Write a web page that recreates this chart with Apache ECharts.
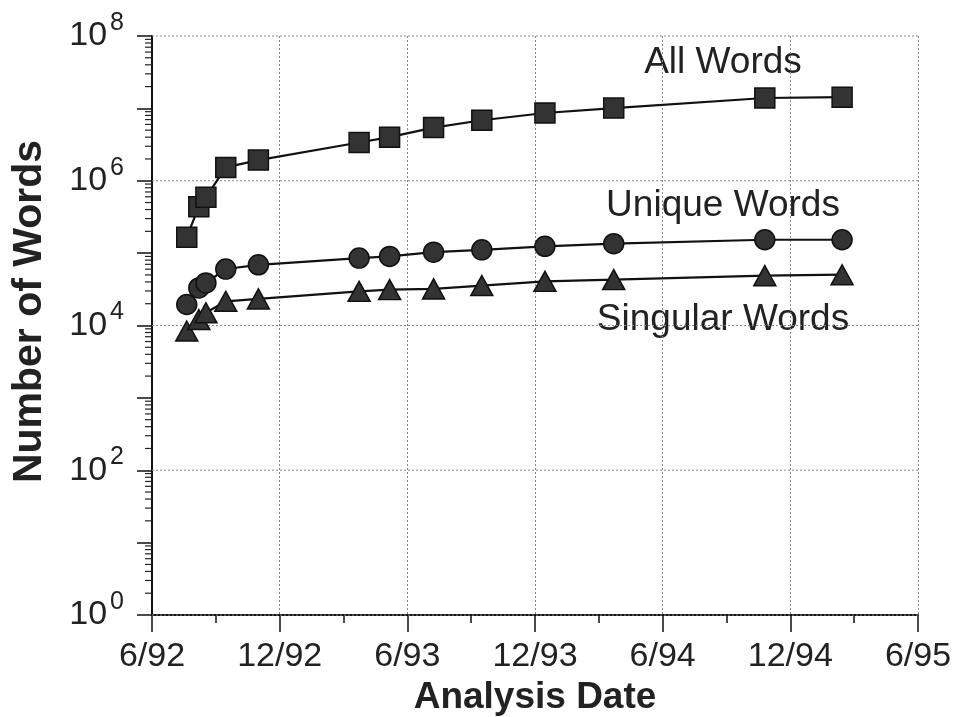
<!DOCTYPE html>
<html>
<head>
<meta charset="utf-8">
<script src="https://cdn.jsdelivr.net/npm/echarts@6/dist/echarts.min.js"></script>
<style>
html,body{margin:0;padding:0;background:#fff;}
#chart{width:956px;height:717px;}
</style>
</head>
<body>
<div id="chart"></div>
<script>
// ---- data ----
const analysisDates = ['1992-07-20','1992-08-07','1992-08-17','1992-09-15','1992-11-01',
  '1993-03-23','1993-05-06','1993-07-08','1993-09-16','1993-12-15','1994-03-22','1994-10-25','1995-02-14'];
const allWords = [166000, 439000, 590000, 1530000, 1930000, 3380000, 4000000, 5430000, 6850000, 8630000, 10100000, 13900000, 14300000];
const uniqueWords = [19500, 33000, 38700, 60300, 69000, 85500, 90000, 103000, 111000, 124000, 135000, 153000, 153000];
const singularWords = [8400, 12100, 15000, 21600, 23300, 29600, 31300, 32000, 35600, 40700, 43000, 48800, 50300];
const xTickLabels = ['6/92','12/92','6/93','12/93','6/94','12/94','6/95'];
const yLabelExponents = ['0','2','4','6','8'];
const seriesNames = ['All Words','Unique Words','Singular Words'];

// months since 6/92
function monthsSince(d){
  const [y,m,dd] = d.split('-').map(Number);
  return (y-1992)*12 + (m-6) + (dd-1)/30;
}
const xs = analysisDates.map(monthsSince);
const pair = arr => arr.map((v,i)=>[xs[i], v]);

const X_MIN = 0, X_MAX = 36;
const FONT = "'Liberation Sans', Arial, Helvetica, sans-serif";

// axis decorations: minor log ticks (2..9 per decade) and grid lines on labelled decades
const decor = [];
for (let e = 0; e < 8; e++) {
  for (let k = 2; k <= 9; k++) decor.push([X_MIN, k*Math.pow(10,e), 0]);
}
yLabelExponents.forEach(s => decor.push([X_MIN, Math.pow(10, Number(s)), 1]));

function decorRender(params, api){
  const v = api.value(1), kind = api.value(2);
  const p0 = api.coord([X_MIN, v]);
  if (kind === 0) {
    return {type:'line', shape:{x1:p0[0]-7, y1:p0[1], x2:p0[0], y2:p0[1]},
      style:{stroke:'#222', lineWidth:1.2}};
  }
  const p1 = api.coord([X_MAX, v]);
  return {type:'line', shape:{x1:p0[0], y1:p0[1], x2:p1[0], y2:p1[1]},
    style:{stroke:'#8a8a8a', lineWidth:1, lineDash:[2,2]}};
}

const markerStyle = {color:'#333', borderColor:'#111', borderWidth:1.5};
const lineStyle = {color:'#111', width:2.2};

const chart = echarts.init(document.getElementById('chart'));
chart.setOption({
  animation:false,
  backgroundColor:'#fff',
  textStyle:{fontFamily:FONT},
  grid:{left:152, right:38, top:36, bottom:102, outerBoundsMode:'none', containLabel:false},
  xAxis:{
    type:'value', min:X_MIN, max:X_MAX, interval:6,
    name:'Analysis Date', nameLocation:'middle', nameGap:53,
    nameTextStyle:{fontFamily:FONT, fontSize:37, fontWeight:'bold', color:'#222'},
    axisLine:{lineStyle:{color:'#111', width:2}},
    axisTick:{length:17, lineStyle:{color:'#111', width:1.5}},
    minorTick:{show:true, splitNumber:2, length:8, lineStyle:{color:'#111', width:1.5}},
    axisLabel:{margin:25, fontSize:34, color:'#222', fontFamily:FONT,
      formatter:v => xTickLabels[Math.round(v/6)]},
    splitLine:{show:true, lineStyle:{color:'#8a8a8a', type:[2,2], width:1}}
  },
  yAxis:{
    type:'log', logBase:10, min:1, max:1e8,
    name:'Number of Words', nameLocation:'middle', nameGap:102, nameRotate:90,
    nameTextStyle:{fontFamily:FONT, fontSize:41, fontWeight:'bold', color:'#222', padding:[0,0,0,28]},
    axisLine:{lineStyle:{color:'#111', width:2}},
    axisTick:{length:15, lineStyle:{color:'#111', width:1.5}},
    axisLabel:{margin:28, fontSize:34, color:'#222', fontFamily:FONT,
      formatter:v => {
        const e = String(Math.round(Math.log10(v)));
        return yLabelExponents.indexOf(e) >= 0 ? '{b|10}{s|' + e + '}' : '';
      },
      rich:{
        b:{fontSize:34, fontFamily:FONT, color:'#222', lineHeight:34},
        s:{fontSize:25, fontFamily:FONT, color:'#222', lineHeight:25, padding:[0,0,26,3]}
      }
    },
    splitLine:{show:false}
  },
  series:[
    {type:'custom', renderItem:decorRender, data:decor, clip:false, silent:true,
     encode:{x:0, y:1}, z:1},
    {name:seriesNames[0], type:'line', data:pair(allWords), symbol:'rect', symbolSize:20,
     itemStyle:markerStyle, lineStyle:lineStyle, z:3},
    {name:seriesNames[1], type:'line', data:pair(uniqueWords), symbol:'circle', symbolSize:20,
     itemStyle:markerStyle, lineStyle:lineStyle, z:3},
    {name:seriesNames[2], type:'line', data:pair(singularWords), symbol:'triangle', symbolSize:[22,20],
     itemStyle:markerStyle, lineStyle:lineStyle, z:3}
  ],
  graphic:[
    {type:'text', x:723, y:63, style:{text:seriesNames[0], font:'37px ' + FONT, fill:'#222', align:'center', verticalAlign:'middle'}},
    {type:'text', x:723, y:206, style:{text:seriesNames[1], font:'37px ' + FONT, fill:'#222', align:'center', verticalAlign:'middle'}},
    {type:'text', x:723, y:320, style:{text:seriesNames[2], font:'37px ' + FONT, fill:'#222', align:'center', verticalAlign:'middle'}}
  ]
});
</script>
</body>
</html>
